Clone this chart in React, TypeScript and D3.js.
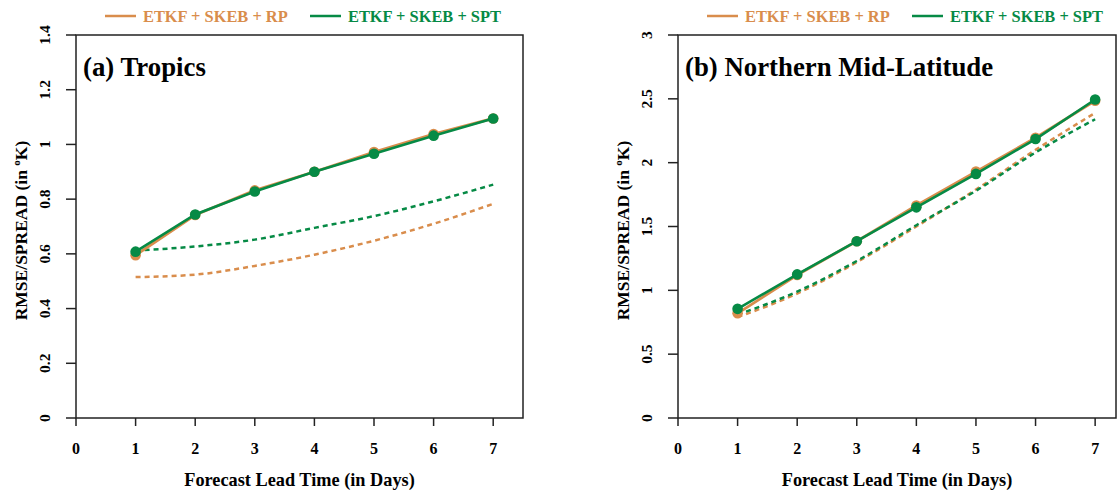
import React from "react";
import * as d3 from "d3";

const days = [1, 2, 3, 4, 5, 6, 7];
const xTicks = [0, 1, 2, 3, 4, 5, 6, 7];

// (a) Tropics
const tropRmseRP = [0.595, 0.742, 0.832, 0.9, 0.972, 1.038, 1.095];
const tropRmseSPT = [0.608, 0.744, 0.828, 0.9, 0.966, 1.032, 1.095];
const tropSpreadRP = [0.515, 0.524, 0.556, 0.597, 0.648, 0.71, 0.783];
const tropSpreadSPT = [0.612, 0.627, 0.652, 0.695, 0.738, 0.792, 0.853];
const yTicksA = [0, 0.2, 0.4, 0.6, 0.8, 1, 1.2, 1.4];

// (b) Northern Mid-Latitude
const nmlRmseRP = [0.82, 1.12, 1.385, 1.665, 1.93, 2.195, 2.485];
const nmlRmseSPT = [0.855, 1.125, 1.385, 1.65, 1.912, 2.185, 2.495];
const nmlSpreadRP = [0.79, 0.975, 1.22, 1.5, 1.79, 2.1, 2.39];
const nmlSpreadSPT = [0.81, 0.99, 1.23, 1.51, 1.78, 2.08, 2.34];
const yTicksB = [0, 0.5, 1, 1.5, 2, 2.5, 3];

const legendLabels = ["ETKF + SKEB + RP", "ETKF + SKEB + SPT"];
const ORANGE = "#D98D4C";
const GREEN = "#068A45";
const FONT = "'Liberation Serif', 'Times New Roman', serif";

type PanelProps = {
  left: number;
  right: number;
  top: number;
  bottom: number;
  xMax: number;
  yMax: number;
  yTicks: number[];
  title: string;
  rmseRP: number[];
  rmseSPT: number[];
  spreadRP: number[];
  spreadSPT: number[];
};

function Panel(p: PanelProps) {
  const x = d3.scaleLinear().domain([0, p.xMax]).range([p.left, p.right]);
  const y = d3.scaleLinear().domain([0, p.yMax]).range([p.bottom, p.top]);
  const solid = d3
    .line<number>()
    .x((_, i) => x(days[i]))
    .y((d) => y(d));
  const smooth = d3
    .line<number>()
    .x((_, i) => x(days[i]))
    .y((d) => y(d))
    .curve(d3.curveMonotoneX);
  const midY = (p.top + p.bottom) / 2;
  const midX = (p.left + p.right) / 2;
  const legX = p.left + 29;
  return (
    <g>
      {/* legend */}
      <line x1={legX} x2={legX + 31} y1={16} y2={16} stroke={ORANGE} strokeWidth={2.5} />
      <text x={legX + 38} y={22} fontSize={16.4} fontWeight="bold" fill={ORANGE} fontFamily={FONT}>
        {legendLabels[0]}
      </text>
      <line x1={legX + 205} x2={legX + 236} y1={16} y2={16} stroke={GREEN} strokeWidth={2.5} />
      <text x={legX + 243} y={22} fontSize={16.4} fontWeight="bold" fill={GREEN} fontFamily={FONT}>
        {legendLabels[1]}
      </text>

      {/* box */}
      <rect
        x={p.left}
        y={p.top}
        width={p.right - p.left}
        height={p.bottom - p.top}
        fill="none"
        stroke="#222"
        strokeWidth={1.5}
      />

      {/* y ticks */}
      {p.yTicks.map((t) => (
        <g key={"y" + t}>
          <line x1={p.left - 10} x2={p.left} y1={y(t)} y2={y(t)} stroke="#222" strokeWidth={1.5} />
          <text
            transform={`translate(${p.left - 26},${y(t)}) rotate(-90)`}
            textAnchor="middle"
            fontSize={15.5}
            fontWeight="bold"
            fontFamily={FONT}
          >
            {String(t)}
          </text>
        </g>
      ))}
      {/* x ticks */}
      {xTicks.map((t) => (
        <g key={"x" + t}>
          <line x1={x(t)} x2={x(t)} y1={p.bottom} y2={p.bottom + 8} stroke="#222" strokeWidth={1.5} />
          <text x={x(t)} y={p.bottom + 36} textAnchor="middle" fontSize={16} fontWeight="bold" fontFamily={FONT}>
            {String(t)}
          </text>
        </g>
      ))}

      {/* axis labels */}
      <text
        transform={`translate(${p.left - 49},${midY + 4}) rotate(-90)`}
        textAnchor="middle"
        fontSize={17.5}
        fontWeight="bold"
        fontFamily={FONT}
      >
        RMSE/SPREAD (in <tspan fontSize={11} dy={-7}>o</tspan>
        <tspan dy={7}>K)</tspan>
      </text>
      <text x={midX} y={p.bottom + 68} textAnchor="middle" fontSize={18.3} fontWeight="bold" fontFamily={FONT}>
        Forecast Lead Time (in Days)
      </text>

      {/* title */}
      <text x={p.left + 7} y={76} fontSize={26.8} fontWeight="bold" fontFamily={FONT}>
        {p.title}
      </text>

      {/* spread (dotted) */}
      <path d={smooth(p.spreadRP) || ""} fill="none" stroke={ORANGE} strokeWidth={2.5} strokeDasharray="5,4" />
      <path d={smooth(p.spreadSPT) || ""} fill="none" stroke={GREEN} strokeWidth={2.5} strokeDasharray="5,4" />

      {/* rmse (solid + markers) */}
      <path d={solid(p.rmseRP) || ""} fill="none" stroke={ORANGE} strokeWidth={2.8} />
      {p.rmseRP.map((v, i) => (
        <circle key={"o" + i} cx={x(days[i])} cy={y(v)} r={5.3} fill={ORANGE} />
      ))}
      <path d={solid(p.rmseSPT) || ""} fill="none" stroke={GREEN} strokeWidth={2.6} />
      {p.rmseSPT.map((v, i) => (
        <circle key={"g" + i} cx={x(days[i])} cy={y(v)} r={5.3} fill={GREEN} />
      ))}
    </g>
  );
}

export default function App() {
  return (
    <svg
      width={1118}
      height={490}
      style={{ position: "absolute", left: 0, top: 0, background: "#fff" }}
    >
      <Panel
        left={76}
        right={523}
        top={35}
        bottom={418}
        xMax={7.5}
        yMax={1.4}
        yTicks={yTicksA}
        title="(a) Tropics"
        rmseRP={tropRmseRP}
        rmseSPT={tropRmseSPT}
        spreadRP={tropSpreadRP}
        spreadSPT={tropSpreadSPT}
      />
      <Panel
        left={678}
        right={1116}
        top={35}
        bottom={418}
        xMax={7.35}
        yMax={3}
        yTicks={yTicksB}
        title="(b) Northern Mid-Latitude"
        rmseRP={nmlRmseRP}
        rmseSPT={nmlRmseSPT}
        spreadRP={nmlSpreadRP}
        spreadSPT={nmlSpreadSPT}
      />
    </svg>
  );
}
